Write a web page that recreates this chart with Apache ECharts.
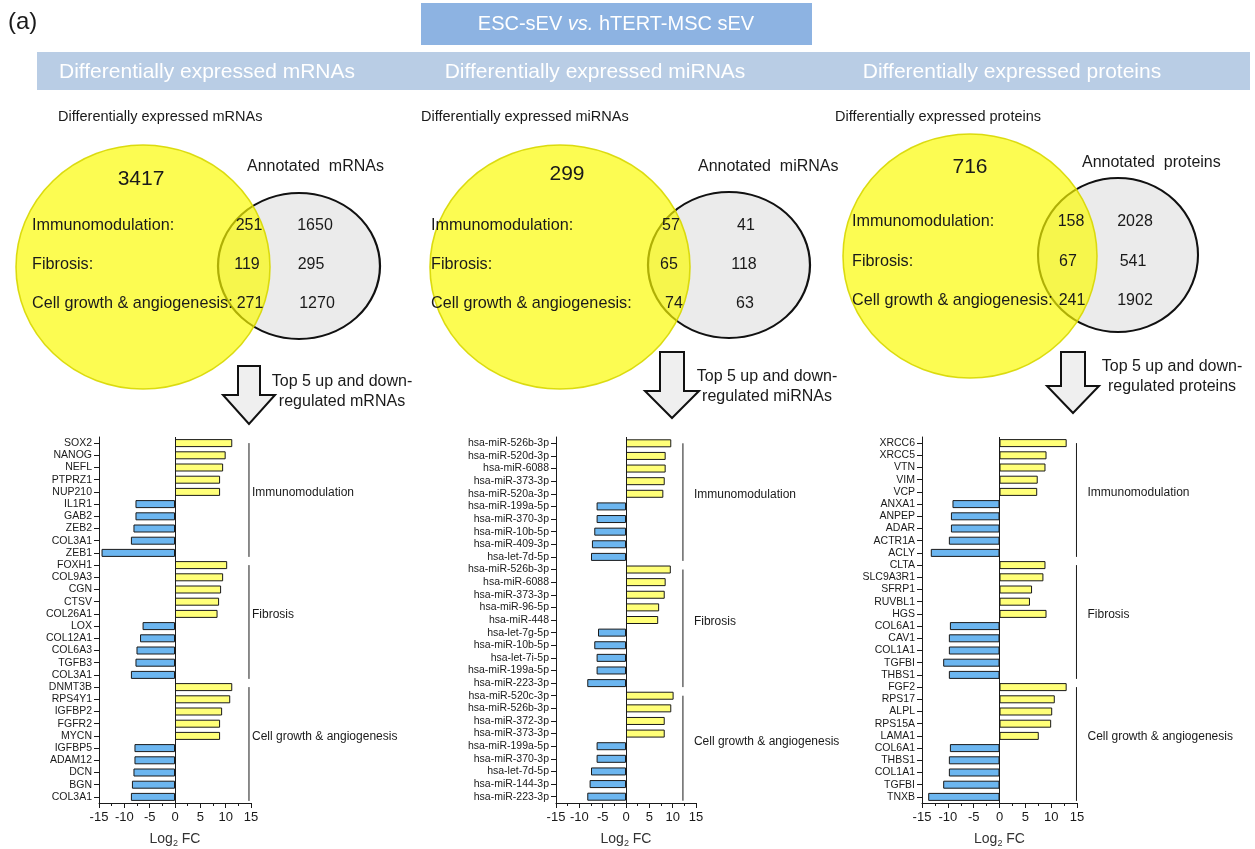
<!DOCTYPE html>
<html>
<head>
<meta charset="utf-8">
<title>ESC-sEV vs. hTERT-MSC sEV</title>
<script src="https://cdn.jsdelivr.net/npm/echarts@6/dist/echarts.min.js"></script>
<style>
  html, body { margin: 0; padding: 0; background: #fff; }
  #chart { width: 1255px; height: 849px; }
</style>
</head>
<body>
<div id="chart"></div>
<script>
// ---------- data ----------
const groupNames = ['Immunomodulation', 'Fibrosis', 'Cell growth & angiogenesis'];

const mrnaGenes = ['SOX2', 'NANOG', 'NEFL', 'PTPRZ1', 'NUP210', 'IL1R1', 'GAB2', 'ZEB2', 'COL3A1', 'ZEB1',
  'FOXH1', 'COL9A3', 'CGN', 'CTSV', 'COL26A1', 'LOX', 'COL12A1', 'COL6A3', 'TGFB3', 'COL3A1',
  'DNMT3B', 'RPS4Y1', 'IGFBP2', 'FGFR2', 'MYCN', 'IGFBP5', 'ADAM12', 'DCN', 'BGN', 'COL3A1'];
const mrnaLog2FC = [11.3, 10.0, 9.5, 8.9, 8.9, -7.8, -7.8, -8.2, -8.7, -14.5,
  10.3, 9.5, 9.1, 8.7, 8.4, -6.4, -6.9, -7.6, -7.8, -8.7,
  11.3, 10.9, 9.3, 8.9, 8.9, -8.0, -8.0, -8.2, -8.5, -8.7];
const mrnaGroupSizes = [10, 10, 10];

const mirnaNames = ['hsa-miR-526b-3p', 'hsa-miR-520d-3p', 'hsa-miR-6088', 'hsa-miR-373-3p', 'hsa-miR-520a-3p',
  'hsa-miR-199a-5p', 'hsa-miR-370-3p', 'hsa-miR-10b-5p', 'hsa-miR-409-3p', 'hsa-let-7d-5p',
  'hsa-miR-526b-3p', 'hsa-miR-6088', 'hsa-miR-373-3p', 'hsa-miR-96-5p', 'hsa-miR-448',
  'hsa-let-7g-5p', 'hsa-miR-10b-5p', 'hsa-let-7i-5p', 'hsa-miR-199a-5p', 'hsa-miR-223-3p',
  'hsa-miR-520c-3p', 'hsa-miR-526b-3p', 'hsa-miR-372-3p', 'hsa-miR-373-3p',
  'hsa-miR-199a-5p', 'hsa-miR-370-3p', 'hsa-let-7d-5p', 'hsa-miR-144-3p', 'hsa-miR-223-3p'];
const mirnaLog2FC = [9.7, 8.5, 8.5, 8.3, 8.0, -6.3, -6.3, -6.8, -7.3, -7.5,
  9.6, 8.5, 8.3, 7.1, 6.9, -6.0, -6.8, -6.3, -6.3, -8.3,
  10.2, 9.7, 8.3, 8.3, -6.3, -6.3, -7.5, -7.8, -8.3];
const mirnaGroupSizes = [10, 10, 9];

const proteinNames = ['XRCC6', 'XRCC5', 'VTN', 'VIM', 'VCP', 'ANXA1', 'ANPEP', 'ADAR', 'ACTR1A', 'ACLY',
  'CLTA', 'SLC9A3R1', 'SFRP1', 'RUVBL1', 'HGS', 'COL6A1', 'CAV1', 'COL1A1', 'TGFBI', 'THBS1',
  'FGF2', 'RPS17', 'ALPL', 'RPS15A', 'LAMA1', 'COL6A1', 'THBS1', 'COL1A1', 'TGFBI', 'TNXB'];
const proteinLog2FC = [13.0, 9.1, 8.9, 7.4, 7.3, -9.1, -9.4, -9.4, -9.8, -13.3,
  8.9, 8.5, 6.3, 5.9, 9.1, -9.6, -9.8, -9.8, -10.9, -9.8,
  13.0, 10.7, 10.2, 10.0, 7.6, -9.6, -9.8, -9.8, -10.9, -13.8];
const proteinGroupSizes = [10, 10, 10];

const xTicks = { min: -15, max: 15, interval: 5 };

// Venn counts: differentially expressed total, overlap with annotated sets, annotated-only
const omicsKinds = ['mRNAs', 'miRNAs', 'proteins'];
const vennDETotals = [3417, 299, 716];
const vennOverlap = [[251, 119, 271], [57, 65, 74], [158, 67, 241]];
const vennAnnotatedOnly = [[1650, 295, 1270], [41, 118, 63], [2028, 541, 1902]];

// ---------- layout ----------
const FONT = '"Liberation Sans", Arial, sans-serif';
const INK = '#1a1a1a';
const UP_COLOR = '#ffff78';
const DOWN_COLOR = '#6cb6f0';

const panels = [
  { names: mrnaGenes, values: mrnaLog2FC, sizes: mrnaGroupSizes,
    grid: { left: 99, top: 437, width: 152, height: 373 },
    bracketAt: 14.6, labelDx: 3,
    sub: { x: 58, y: 117 },
    yellow: { cx: 143, cy: 267, rx: 127, ry: 122 },
    gray: { cx: 299, cy: 266, rx: 81, ry: 73 },
    total: { x: 141, y: 179 }, annot: { x: 247, y: 167 },
    rowX: 32, rowY: [226, 265, 304], ovX: [249, 247, 250], onlyX: [315, 311, 317],
    arrow: { cx: 249, top: 366, base: 395, tip: 424, sw: 11, hw: 26 },
    arrowText: { x: 342, y: [382, 402] } },
  { names: mirnaNames, values: mirnaLog2FC, sizes: mirnaGroupSizes,
    grid: { left: 556, top: 437, width: 140, height: 368 },
    bracketAt: 12.2, labelDx: 11,
    sub: { x: 421, y: 117 },
    yellow: { cx: 560, cy: 267, rx: 130, ry: 122 },
    gray: { cx: 729, cy: 265, rx: 81, ry: 73 },
    total: { x: 567, y: 174 }, annot: { x: 698, y: 167 },
    rowX: 431, rowY: [226, 265, 304], ovX: [671, 669, 674], onlyX: [746, 744, 745],
    arrow: { cx: 672, top: 352, base: 391, tip: 418, sw: 12, hw: 27 },
    arrowText: { x: 767, y: [377, 397] } },
  { names: proteinNames, values: proteinLog2FC, sizes: proteinGroupSizes,
    grid: { left: 922, top: 437, width: 155, height: 368 },
    bracketAt: 14.9, labelDx: 11,
    sub: { x: 835, y: 117 },
    yellow: { cx: 970, cy: 256, rx: 127, ry: 122 },
    gray: { cx: 1118, cy: 255, rx: 80, ry: 77 },
    total: { x: 970, y: 167 }, annot: { x: 1082, y: 163 },
    rowX: 852, rowY: [222, 262, 301], ovX: [1071, 1068, 1072], onlyX: [1135, 1133, 1135],
    arrow: { cx: 1073, top: 352, base: 386, tip: 413, sw: 12, hw: 26 },
    arrowText: { x: 1172, y: [367, 387] } }
];

// ---------- option ----------
const grids = [], xAxes = [], yAxes = [], series = [];
panels.forEach((p, i) => {
  grids.push(Object.assign({ containLabel: false }, p.grid));
  xAxes.push({
    gridIndex: i, type: 'value', min: xTicks.min, max: xTicks.max, interval: xTicks.interval,
    axisLine: { show: true, onZero: false, lineStyle: { color: INK, width: 1 } },
    axisTick: { show: true, length: 5, lineStyle: { color: INK } },
    minorTick: { show: true, splitNumber: 2, length: 3, lineStyle: { color: INK } },
    splitLine: { show: false },
    axisLabel: { fontSize: 13, color: INK, fontFamily: FONT, margin: 8 },
    name: '{a|Log}{s|2}{a| FC}',
    nameLocation: 'middle', nameGap: 28,
    nameTextStyle: {
      rich: {
        a: { fontSize: 14, fontFamily: FONT, color: '#333' },
        s: { fontSize: 9, fontFamily: FONT, color: '#333', verticalAlign: 'bottom', padding: [8, 0, 0, 0] }
      }
    }
  });
  yAxes.push({
    gridIndex: i, type: 'category', inverse: true, data: p.names,
    axisLine: { show: true, onZero: false, lineStyle: { color: INK, width: 1 } },
    axisTick: { show: true, alignWithLabel: true, length: 5, lineStyle: { color: INK } },
    axisLabel: { interval: 0, fontSize: 10.5, color: INK, fontFamily: FONT, margin: 7 },
    splitLine: { show: false }
  });
  series.push({
    type: 'bar', xAxisIndex: i, yAxisIndex: i, barWidth: 8,
    data: p.values,
    itemStyle: {
      color: (d) => (d.value >= 0 ? UP_COLOR : DOWN_COLOR),
      borderColor: INK, borderWidth: 1
    },
    markLine: {
      silent: true, symbol: 'none', label: { show: false },
      lineStyle: { color: INK, type: 'solid', width: 1 },
      data: [{ xAxis: 0 }]
    },
    animation: false
  });
});

const chart = echarts.init(document.getElementById('chart'), null, { renderer: 'canvas' });
chart.setOption({
  backgroundColor: '#ffffff',
  animation: false,
  grid: grids, xAxis: xAxes, yAxis: yAxes, series: series
});

// ---------- decorations: header, Venn diagrams, arrows ----------
function txt(text, x, y, size, opts) {
  return {
    type: 'text', silent: true, z: 20,
    style: Object.assign({
      text: text, x: x, y: y, fill: INK,
      font: size + 'px ' + FONT, textAlign: 'left', textVerticalAlign: 'middle'
    }, opts || {})
  };
}
function ellipse(e, style, z) {
  return {
    type: 'circle', silent: true, z: z,
    x: e.cx, y: e.cy, scaleX: e.rx / e.ry, scaleY: 1,
    shape: { cx: 0, cy: 0, r: e.ry },
    style: Object.assign({ strokeNoScale: true }, style)
  };
}

const g = [];
g.push(txt('(a)', 8, 22, 24));
g.push({ type: 'rect', silent: true, z: 5, shape: { x: 421, y: 3, width: 391, height: 42 },
  style: { fill: '#8db3e2' } });
g.push({ type: 'text', silent: true, z: 20,
  style: { text: '{a|ESC-sEV }{b|vs.}{a| hTERT-MSC sEV}', x: 616, y: 24,
    textAlign: 'center', textVerticalAlign: 'middle',
    rich: { a: { fontSize: 20, fontFamily: FONT, fill: '#ffffff', color: '#ffffff' },
            b: { fontSize: 20, fontFamily: FONT, fontStyle: 'italic', fill: '#ffffff', color: '#ffffff' } } } });
g.push({ type: 'rect', silent: true, z: 5, shape: { x: 37, y: 52, width: 1213, height: 38 },
  style: { fill: '#b9cde5' } });
const bandCenters = [207, 595, 1012];
omicsKinds.forEach((k, i) => {
  g.push(txt('Differentially expressed ' + k, bandCenters[i], 72, 21, { fill: '#ffffff', textAlign: 'center' }));
});

panels.forEach((p, i) => {
  const kind = omicsKinds[i];
  g.push(txt('Differentially expressed ' + kind, p.sub.x, p.sub.y, 14.5));
  // annotated set underneath, the DE set drawn over it semi-transparently
  g.push(ellipse(p.gray, { fill: '#ebebeb', stroke: '#111', lineWidth: 2 }, 6));
  g.push(ellipse(p.yellow, { fill: 'rgba(250,250,0,0.68)', stroke: 'rgba(215,215,0,0.9)', lineWidth: 1.5 }, 7));
  g.push(txt(String(vennDETotals[i]), p.total.x, p.total.y, 21, { textAlign: 'center' }));
  g.push(txt('Annotated  ' + kind, p.annot.x, p.annot.y, 16));
  groupNames.forEach((name, r) => {
    g.push(txt(name + ':', p.rowX, p.rowY[r], 16.2));
    g.push(txt(String(vennOverlap[i][r]), p.ovX[r], p.rowY[r], 16, { textAlign: 'center' }));
    g.push(txt(String(vennAnnotatedOnly[i][r]), p.onlyX[r], p.rowY[r], 16, { textAlign: 'center' }));
  });
  // block arrow
  const a = p.arrow;
  g.push({ type: 'polygon', silent: true, z: 8,
    shape: { points: [[a.cx - a.sw, a.top], [a.cx + a.sw, a.top], [a.cx + a.sw, a.base], [a.cx + a.hw, a.base],
      [a.cx, a.tip], [a.cx - a.hw, a.base], [a.cx - a.sw, a.base]] },
    style: { fill: '#efefef', stroke: '#111', lineWidth: 2, lineJoin: 'miter' } });
  g.push(txt('Top 5 up and down-', p.arrowText.x, p.arrowText.y[0], 16, { textAlign: 'center' }));
  g.push(txt('regulated ' + kind, p.arrowText.x, p.arrowText.y[1], 16, { textAlign: 'center' }));

  // group brackets placed through the axes' own scales
  let start = 0;
  p.sizes.forEach((n, gi) => {
    const top = chart.convertToPixel({ gridIndex: i }, [p.bracketAt, start]);
    const bot = chart.convertToPixel({ gridIndex: i }, [p.bracketAt, start + n - 1]);
    g.push({ type: 'line', silent: true, z: 10,
      shape: { x1: top[0], y1: top[1], x2: bot[0], y2: bot[1] + 4 },
      style: { stroke: INK, lineWidth: 1 } });
    g.push(txt(groupNames[gi], top[0] + p.labelDx, (top[1] + bot[1]) / 2 - 5, 12));
    start += n;
  });
});

chart.setOption({ graphic: g });
</script>
</body>
</html>
